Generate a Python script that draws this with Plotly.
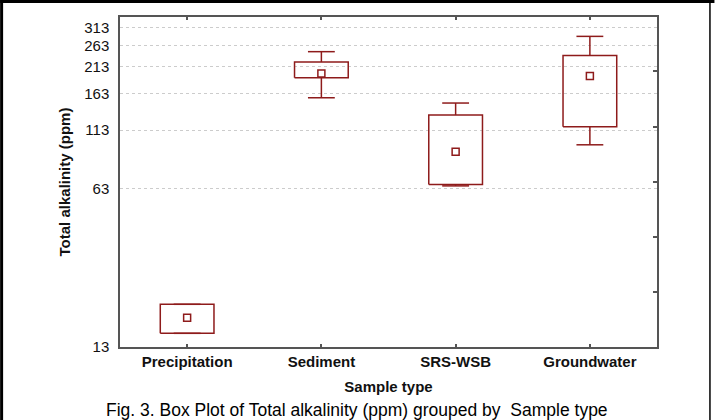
import math
import plotly.graph_objects as go

# ---- data ----
categories = ["Precipitation", "Sediment", "SRS-WSB", "Groundwater"]
whisker_low = [14.9, 156.0, 64.8, 97.6]
box_low = [14.9, 190.5, 65.7, 116.8]
center_val = [17.4, 198.9, 91.0, 193.8]
box_high = [19.9, 222.8, 131.3, 238.0]
whisker_high = [19.9, 247.0, 148.0, 287.7]

y_tick_vals = [13, 63, 113, 163, 213, 263, 313]
y_tick_text = ["13", "63", "113", "163", "213", "263", "313"]
right_tick_vals = [22.5, 39.0, 67.5, 117.0, 203.0]

# ---- style ----
RED = "#8E1B1B"
AXIS = "#555555"
FONT = "Liberation Sans, Arial, sans-serif"
W, H = 715, 420
ML, MR, MT, MB = 120, 57.5, 17, 73
BOX_HALF = 0.2
CAP_HALF = 0.1
Y_MIN, Y_MAX = 13, 349

xs, ys = [], []
for i in range(len(categories)):
    lo, hi = box_low[i], box_high[i]
    xs += [i - BOX_HALF, i + BOX_HALF, i + BOX_HALF, i - BOX_HALF, i - BOX_HALF, None]
    ys += [lo, lo, hi, hi, lo, None]
    xs += [i, i, None, i, i, None]
    ys += [hi, whisker_high[i], None, lo, whisker_low[i], None]
    xs += [i - CAP_HALF, i + CAP_HALF, None, i - CAP_HALF, i + CAP_HALF, None]
    ys += [whisker_high[i], whisker_high[i], None, whisker_low[i], whisker_low[i], None]

fig = go.Figure()
fig.add_trace(go.Scatter(x=xs, y=ys, mode="lines", line=dict(color=RED, width=1.5),
                         showlegend=False, hoverinfo="skip"))
fig.add_trace(go.Scatter(x=list(range(len(categories))), y=center_val, mode="markers",
                         marker=dict(symbol="square-open", size=7, color=RED,
                                     line=dict(color=RED, width=1.5)),
                         showlegend=False, hoverinfo="skip"))
# invisible trace to anchor the right-hand tick axis
fig.add_trace(go.Scatter(x=[0], y=[center_val[0]], yaxis="y2", mode="markers",
                         marker=dict(opacity=0), showlegend=False, hoverinfo="skip"))

plot_w = W - ML - MR
plot_h = H - MT - MB

def px_x(p):
    return (p - ML) / plot_w

def px_y(p):
    return (H - MB - p) / plot_h

fig.update_layout(
    width=W, height=H,
    margin=dict(l=ML, r=MR, t=MT, b=MB, pad=0),
    paper_bgcolor="white", plot_bgcolor="white",
    font=dict(family=FONT, color="black"),
    xaxis=dict(
        range=[-0.5, len(categories) - 0.5],
        tickvals=list(range(len(categories))), ticktext=[f"<b>{c}</b>" for c in categories],
        ticks="inside", ticklen=3, tickcolor=AXIS, tickwidth=1.5,
        showline=True, linecolor=AXIS, linewidth=1.5, mirror="ticks",
        showgrid=False, zeroline=False,
        tickfont=dict(family=FONT, size=15, color="#111"),
        ticklabelstandoff=0,
        title=dict(text="<b>Sample type</b>", font=dict(family=FONT, size=15, color="#111"),
                   standoff=13),
    ),
    yaxis=dict(
        type="log", range=[math.log10(Y_MIN), math.log10(Y_MAX)],
        tickvals=y_tick_vals, ticktext=y_tick_text,
        ticks="outside", ticklen=6, tickcolor="rgba(0,0,0,0)",
        showline=True, linecolor=AXIS, linewidth=1.5, mirror=True,
        showgrid=True, gridcolor="#cccccc", gridwidth=1, griddash="dot",
        zeroline=False,
        tickfont=dict(family=FONT, size=15, color="#111"),
        title=dict(text="<b>Total alkalinity (ppm)</b>",
                   font=dict(family=FONT, size=15, color="#111"), standoff=10),
    ),
    yaxis2=dict(
        type="log", range=[math.log10(Y_MIN), math.log10(Y_MAX)],
        overlaying="y", side="right",
        tickvals=right_tick_vals, ticks="inside", ticklen=4,
        tickcolor=AXIS, tickwidth=1.5,
        showticklabels=False, showgrid=False, showline=False, zeroline=False,
    ),
    annotations=[dict(
        text="Fig. 3. Box Plot of Total alkalinity (ppm) grouped by \u00a0Sample type",
        xref="paper", yref="paper", x=px_x(W / 2), y=px_y(410),
        xanchor="center", yanchor="middle", showarrow=False,
        font=dict(family=FONT, size=17.5, color="black"),
    )],
    shapes=[
        dict(type="line", xref="paper", yref="paper", x0=px_x(1.5), x1=px_x(1.5),
             y0=px_y(0), y1=px_y(H), line=dict(color="black", width=3)),
        dict(type="line", xref="paper", yref="paper", x0=px_x(0), x1=px_x(W),
             y0=px_y(1.5), y1=px_y(1.5), line=dict(color="black", width=3)),
        dict(type="line", xref="paper", yref="paper", x0=px_x(710.5), x1=px_x(710.5),
             y0=px_y(0), y1=px_y(H), line=dict(color="black", width=1.5)),
    ],
)

fig.write_html("out.html", config={"displayModeBar": False},
               post_script="document.body.style.margin='0';")
